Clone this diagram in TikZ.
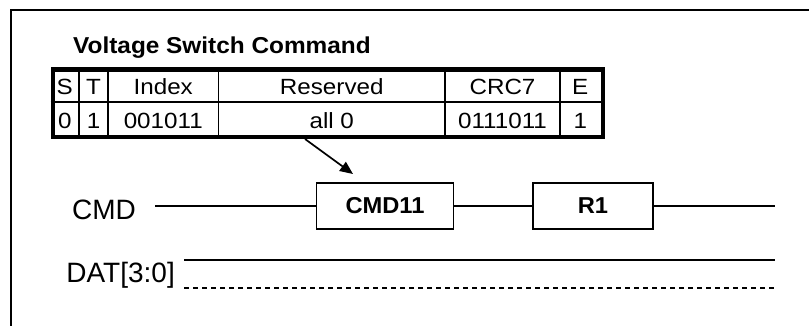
\documentclass[tikz,border=0pt]{standalone}
\usepackage{fontspec}
\setmainfont{Liberation Sans}
\usepackage{graphicx}
\usetikzlibrary{arrows.meta}
\newcommand{\hs}[2]{\scalebox{#1}[1]{#2}}
\tikzset{
  thin line/.style={line width=1.7pt},
  celltext/.style={inner sep=0pt, anchor=base, font=\fontsize{22}{22}\selectfont},
  sigbox/.style={draw, line width=1.7pt, minimum width=137pt, minimum height=46pt, inner sep=0pt, font=\fontsize{23}{23}\selectfont\bfseries},
  siglabel/.style={inner sep=0pt, anchor=base east, font=\fontsize{28}{28}\selectfont},
}
\begin{document}
\begin{tikzpicture}[x=1pt,y=-1pt]
\useasboundingbox (0,0) rectangle (809,325);
% outer frame
\draw[line width=2.5pt] (11,330) -- (11,10) -- (815,10);
% title
\node[inner sep=0pt, anchor=base west, font=\fontsize{23}{23}\selectfont\bfseries] (title) at (73,53) {\hs{1.06}{Voltage Switch Command}};
% table
\node[draw, line width=4.5pt, minimum width=550pt, minimum height=67.5pt, inner sep=0pt, anchor=north west] (tbl) at (50.5,67) {};
\draw[thin line] (tbl.west |- 0,102) -- (tbl.east |- 0,102);
\foreach \x in {79,108,218.5,445,560} {
  \draw[thin line] (\x,67) -- (\x,134.5);
}
\node[celltext] (hS) at (64.75,94.5) {\hs{1.1}{S}};
\node[celltext] (hT) at (93.5,94.5) {\hs{1.1}{T}};
\node[celltext] (hI) at (163.25,94.5) {\hs{1.1}{Index}};
\node[celltext] (hR) at (331.75,94.5) {\hs{1.1}{Reserved}};
\node[celltext] (hC) at (502.5,94.5) {\hs{1.1}{CRC7}};
\node[celltext] (hE) at (580.25,94.5) {\hs{1.1}{E}};
\node[celltext] (vS) at (64.75,128.5) {\hs{1.1}{0}};
\node[celltext] (vT) at (93.5,128.5) {\hs{1.1}{1}};
\node[celltext] (vI) at (163.25,128.5) {\hs{1.1}{001011}};
\node[celltext] (vR) at (331.75,128.5) {\hs{1.1}{all 0}};
\node[celltext] (vC) at (502.5,128.5) {\hs{1.1}{0111011}};
\node[celltext] (vE) at (580.25,128.5) {\hs{1.1}{1}};
% arrow
\coordinate (arrS) at (305,139);
\coordinate (arrE) at (353,174);
\draw[thin line, -{Triangle[length=13pt,width=11pt]}] (arrS) -- (arrE);
% signals
\node[siglabel] (cmdlbl) at (136,219) {CMD};
\node[siglabel] (datlbl) at (175,282) {DAT[3:0]};
\node[sigbox, minimum width=137pt] (cmd11) at (385,206) {\hs{1.03}{CMD11}};
\node[sigbox, minimum width=120pt] (r1) at (593,206) {\hs{1.03}{R1}};
\coordinate (cmdL) at (155,206);
\coordinate (cmdR) at (775,206);
\draw[thin line] (cmdL) -- (cmd11.west);
\draw[thin line] (cmd11.east) -- (r1.west);
\draw[thin line] (r1.east) -- (cmdR);
\coordinate (datL) at (184,260);
\coordinate (datR) at (775,260);
\coordinate (datLd) at (184,288);
\coordinate (datRd) at (775,288);
\draw[thin line] (datL) -- (datR);
\draw[thin line, dash pattern=on 5pt off 4pt] (datLd) -- (datRd);
\end{tikzpicture}
\end{document}
